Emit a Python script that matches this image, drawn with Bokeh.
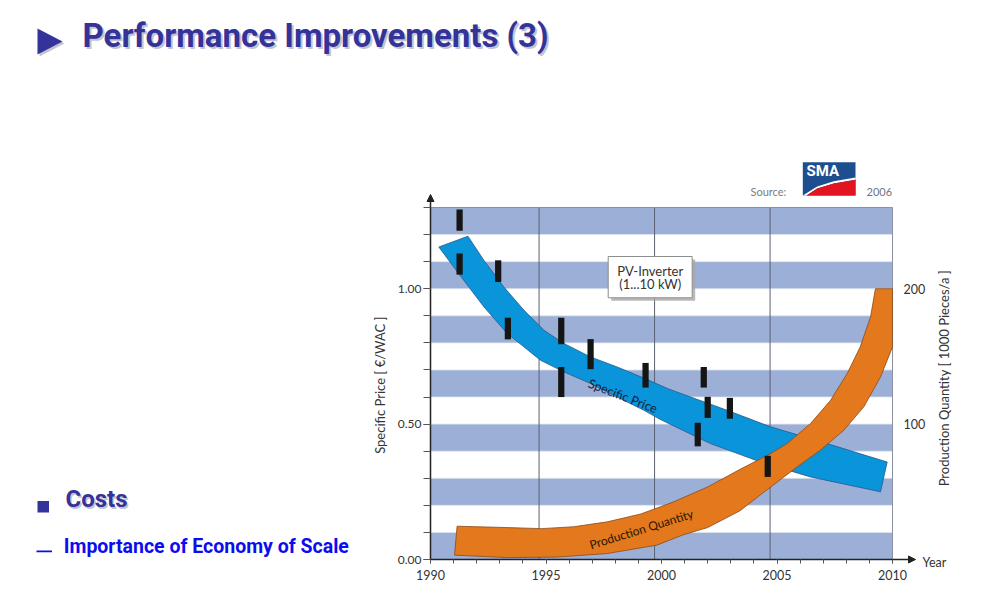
from bokeh.plotting import figure
from bokeh.models import (Range1d, LinearAxis, SingleIntervalTicker, FixedTicker,
                          NumeralTickFormatter, Arrow, NormalHead, Label,
                          BoxAnnotation, PolyAnnotation)
from bokeh.core.properties import value
from bokeh.embed import file_html
from bokeh.resources import INLINE
import math

# specific price band [EUR/W_AC]: upper and lower edge
price_up_years = [1991.62, 1992.31, 1993.17, 1994.04, 1994.91, 1995.77, 1996.93,
                  1998.08, 1999.24, 2000.3, 2002.84, 2004.72, 2007.17, 2009.77]
price_up = [1.194, 1.105, 1.007, 0.921, 0.847, 0.798, 0.748,
            0.711, 0.670, 0.630, 0.551, 0.490, 0.428, 0.360]
price_lo_years = [1990.36, 1991.44, 1992.31, 1993.32, 1994.76, 1995.77, 1996.93,
                  1998.08, 1999.24, 2000.0, 2002.12, 2004.29, 2006.45, 2009.48]
price_lo = [1.154, 1.031, 0.933, 0.835, 0.736, 0.693, 0.650,
            0.600, 0.551, 0.515, 0.428, 0.360, 0.305, 0.250]

# production quantity band [1000 pieces/a]: upper and lower edge
qty_up_years = [1991.15, 1993.3, 1994.8, 1996.2, 1997.65, 1999.1, 2000.5, 2002.0, 2003.4,
                2004.7, 2005.44, 2006.45, 2007.32, 2008.04, 2008.6, 2009.05, 2009.26, 2010.0]
qty_up = [24.6, 23.6, 22.8, 24.2, 27.8, 33.6, 42.4, 53.6, 66.6,
          78.0, 85.6, 100.4, 117.6, 137.4, 157.0, 179.2, 200.0, 200.0]
qty_lo_years = [1991.04, 1993.3, 1995.5, 1997.65, 1999.8, 2000.9, 2002.0, 2003.4,
                2004.3, 2005.3, 2005.87, 2006.88, 2007.89, 2008.76, 2009.48, 2010.0]
qty_lo = [3.2, 1.4, 1.8, 4.4, 10.6, 18.0, 23.6, 36.0,
          48.0, 61.0, 68.4, 80.8, 95.4, 112.8, 134.8, 157.0]

# price ranges of single inverter models
bar_years = [1991.26, 1991.26, 1992.93, 1993.35, 1995.66, 1995.66, 1996.93,
             1999.31, 2001.83, 2002.0, 2002.96, 2001.57, 2004.6]
bar_top = [1.293, 1.130, 1.105, 0.893, 0.893, 0.711, 0.814,
           0.726, 0.711, 0.601, 0.597, 0.505, 0.383]
bar_bottom = [1.214, 1.052, 1.025, 0.813, 0.795, 0.600, 0.703,
              0.635, 0.635, 0.523, 0.520, 0.418, 0.305]

grid_years = [1994.7, 1999.7, 2004.7]
qty_ticks = [100, 200]

YEAR0, YEAR1 = 1990, 2010
PRICE_TOP = 1.3
QTY_PER_PRICE = 200          # right scale: 1.00 EUR/W <-> 200 000 pieces/a

NAVY = "#33339a"
SHADOW = "#c4c4d0"
FONT = "Lato"
HEAD = "Roboto"
W, H = 971, 587


# page pixel -> data units (1990..2010 at x 430..892, 0..1.3 at y 559..207)
def sx(px):
    return YEAR0 + (px - 430) / 23.1


def sy(py):
    return (559 - py) / (352 / PRICE_TOP)


p = figure(width=W, height=H, x_range=Range1d(sx(0), sx(W)), y_range=Range1d(sy(H), sy(0)),
           output_backend="svg", toolbar_location=None,
           min_border_left=0, min_border_right=0, min_border_top=0, min_border_bottom=0)
p.background_fill_color = "white"
p.border_fill_color = "white"
p.outline_line_color = None
p.grid.visible = False

# stripes, year lines and chart border
stripe_lo = [i / 10 for i in range(0, 13, 2)]
p.quad(left=YEAR0, right=YEAR1, bottom=stripe_lo, top=[s + 0.1 for s in stripe_lo],
       fill_color="#9bafd7", line_color="#dfe5f0", line_width=0.8)
p.segment(x0=grid_years, y0=0, x1=grid_years, y1=PRICE_TOP, line_color="#5c6270", line_width=1)
p.quad(left=YEAR0, right=YEAR1, bottom=0, top=PRICE_TOP, fill_color=None,
       line_color="#8a90a0", line_width=1)

# bottom axis
xa = p.xaxis[0]
xa.fixed_location = 0
xa.bounds = (YEAR0, YEAR1 + 0.01)
xa.ticker = SingleIntervalTicker(interval=5, num_minor_ticks=5)
xa.axis_line_color = "#222222"
xa.axis_line_width = 1.5
xa.major_tick_in = 0
xa.minor_tick_in = 0
xa.major_tick_out = 4
xa.minor_tick_out = 4
xa.major_tick_line_color = "#555555"
xa.minor_tick_line_color = "#555555"
xa.major_label_standoff = 6
xa.major_label_text_font = FONT
xa.major_label_text_font_size = "12.5px"
xa.major_label_text_color = "#333333"

# left axis
ya = p.yaxis[0]
ya.fixed_location = YEAR0
ya.bounds = (0, PRICE_TOP + 0.001)
ya.ticker = SingleIntervalTicker(interval=0.5, num_minor_ticks=5)
ya.formatter = NumeralTickFormatter(format="0.00")
ya.axis_line_color = "#222222"
ya.axis_line_width = 1.5
ya.major_tick_in = 0
ya.minor_tick_in = 0
ya.major_tick_out = 7
ya.minor_tick_out = 7
ya.major_tick_line_color = "#555555"
ya.minor_tick_line_color = "#555555"
ya.major_label_standoff = 2
ya.major_label_text_font = FONT
ya.major_label_text_font_size = "12px"
ya.major_label_text_color = "#333333"
ya.axis_label = "Specific Price  [ €/WAC ]"
ya.axis_label_standoff = 7
ya.axis_label_text_font = FONT
ya.axis_label_text_font_style = "normal"
ya.axis_label_text_font_size = "13px"
ya.axis_label_text_color = "#333333"

# right axis
p.extra_y_ranges = {"qty": Range1d(sy(H) * QTY_PER_PRICE, sy(0) * QTY_PER_PRICE)}
right = LinearAxis(y_range_name="qty", fixed_location=YEAR1, bounds=(0, PRICE_TOP * QTY_PER_PRICE),
                   ticker=FixedTicker(ticks=qty_ticks),
                   axis_line_color=None, major_tick_line_color=None, minor_tick_line_color=None,
                   major_tick_out=0, minor_tick_out=0, major_label_standoff=11,
                   major_label_text_font=FONT, major_label_text_font_size="12.5px",
                   major_label_text_color="#333333")
p.add_layout(right, "right")
p.add_layout(Label(x=sx(943), y=sy(376), text="Production Quantity  [ 1000 Pieces/a ]",
                   angle=math.pi / 2, text_align="center", text_baseline="middle",
                   text_font=FONT, text_font_size="13px", text_color="#333333"))

# bands and bars
p.patch(price_up_years + price_lo_years[::-1], price_up + price_lo[::-1],
        fill_color="#0a95da", line_color="#25598a", line_width=0.8)
p.patch(qty_up_years + qty_lo_years[::-1], qty_up + qty_lo[::-1], y_range_name="qty",
        fill_color="#e3781c", line_color="#8a4a1a", line_width=0.8)
p.vbar(x=bar_years, bottom=bar_bottom, top=bar_top, width=0.27,
       fill_color="#151515", line_color=None)

p.text(x=[1998.33], y=[0.604], text=["Specific Price"], angle=-0.372,
       text_align="center", text_baseline="middle", text_font=value(FONT),
       text_font_size="12.5px", text_color="#16233d")
p.text(x=[1999.13], y=[22.4], y_range_name="qty", text=["Production Quantity"], angle=0.30,
       text_align="center", text_baseline="middle", text_font=value(FONT),
       text_font_size="12px", text_color="#2a1606")

# PV-Inverter box
p.add_layout(BoxAnnotation(left=sx(610.7), right=sx(694.7), top=sy(259), bottom=sy(300.3),
                           fill_color="#a8a8a8", fill_alpha=0.8, line_color=None))
p.add_layout(BoxAnnotation(left=sx(607.7), right=sx(691.7), top=sy(256), bottom=sy(297.3),
                           fill_color="white", fill_alpha=1, line_color="#8c8c8c",
                           line_alpha=1, line_width=1, line_dash="solid"))
for txt, py in [("PV-Inverter", 270.5), ("(1...10 kW)", 283)]:
    p.add_layout(Label(x=sx(649.7), y=sy(py), text=txt, text_align="center",
                       text_baseline="middle", text_font=FONT, text_font_size="13px",
                       text_color="#333333"))

# axis arrows
p.add_layout(Arrow(end=NormalHead(size=7, fill_color="#222222", line_color="#222222"),
                   x_start=YEAR0, y_start=PRICE_TOP, x_end=YEAR0, y_end=sy(194),
                   line_color="#222222", line_width=1.5))
p.add_layout(Arrow(end=NormalHead(size=7, fill_color="#222222", line_color="#222222"),
                   x_start=YEAR1, y_start=0, x_end=sx(915), y_end=0,
                   line_color="#222222", line_width=1.5))
p.add_layout(Label(x=sx(922), y=sy(562), text="Year", text_baseline="middle",
                   text_font=FONT, text_font_size="12.5px", text_color="#333333"))

# source with SMA logo
p.add_layout(Label(x=sx(750), y=sy(191), text="Source:", text_baseline="middle",
                   text_font=FONT, text_font_size="11px", text_color="#7d7d7d"))
p.add_layout(Label(x=sx(866), y=sy(191), text="2006", text_baseline="middle",
                   text_font=FONT, text_font_size="11px", text_color="#6d7585"))
p.add_layout(BoxAnnotation(left=sx(802.3), right=sx(855), top=sy(161.7), bottom=sy(195),
                           fill_color="#1d4f8f", fill_alpha=1, line_color=None))
p.add_layout(PolyAnnotation(xs=[sx(802.3), sx(816.7), sx(833.3), sx(855), sx(855), sx(833.3), sx(816.7), sx(806)],
                            ys=[sy(195), sy(186), sy(180.7), sy(177), sy(179.2), sy(183), sy(188), sy(195)],
                            fill_color="white", fill_alpha=1, line_color=None))
p.add_layout(PolyAnnotation(xs=[sx(806), sx(816.7), sx(833.3), sx(855), sx(855)],
                            ys=[sy(195), sy(188), sy(183), sy(179.2), sy(195)],
                            fill_color="#e2141f", fill_alpha=1, line_color=None))
p.add_layout(Label(x=sx(806), y=sy(179), text="SMA", text_font=HEAD,
                   text_font_style="bold", text_font_size="15px", text_color="white"))

# slide title and bullets
p.add_layout(PolyAnnotation(xs=[sx(39), sx(39), sx(64)], ys=[sy(30), sy(56), sy(43)],
                            fill_color=SHADOW, fill_alpha=1, line_color=None))
p.add_layout(PolyAnnotation(xs=[sx(37), sx(37), sx(62)], ys=[sy(28), sy(54), sy(41)],
                            fill_color=NAVY, fill_alpha=1, line_color=None))
p.add_layout(Label(x=sx(84), y=sy(56), text="Performance Improvements (3)",
                   text_font=HEAD, text_font_style="bold", text_font_size="33px",
                   text_color=SHADOW))
p.add_layout(Label(x=sx(82), y=sy(54), text="Performance Improvements (3)",
                   text_font=HEAD, text_font_style="bold", text_font_size="33px",
                   text_color=NAVY))
p.add_layout(BoxAnnotation(left=sx(37), right=sx(48.5), top=sy(500.5), bottom=sy(512),
                           fill_color=NAVY, fill_alpha=1, line_color=None))
p.add_layout(Label(x=sx(66.5), y=sy(514), text="Costs", text_font=HEAD,
                   text_font_style="bold", text_font_size="24px", text_color=SHADOW))
p.add_layout(Label(x=sx(65), y=sy(512.5), text="Costs", text_font=HEAD,
                   text_font_style="bold", text_font_size="24px", text_color=NAVY))
p.add_layout(BoxAnnotation(left=sx(36), right=sx(51.5), top=sy(550), bottom=sy(551.8),
                           fill_color="#0c0cf0", fill_alpha=1, line_color=None))
p.add_layout(Label(x=sx(63.3), y=sy(557.5), text="Importance of Economy of Scale",
                   text_font=HEAD, text_font_style="bold", text_font_size="19.5px",
                   text_color="#0c0cf0"))

open("out.html", "w").write(file_html(p, INLINE))
